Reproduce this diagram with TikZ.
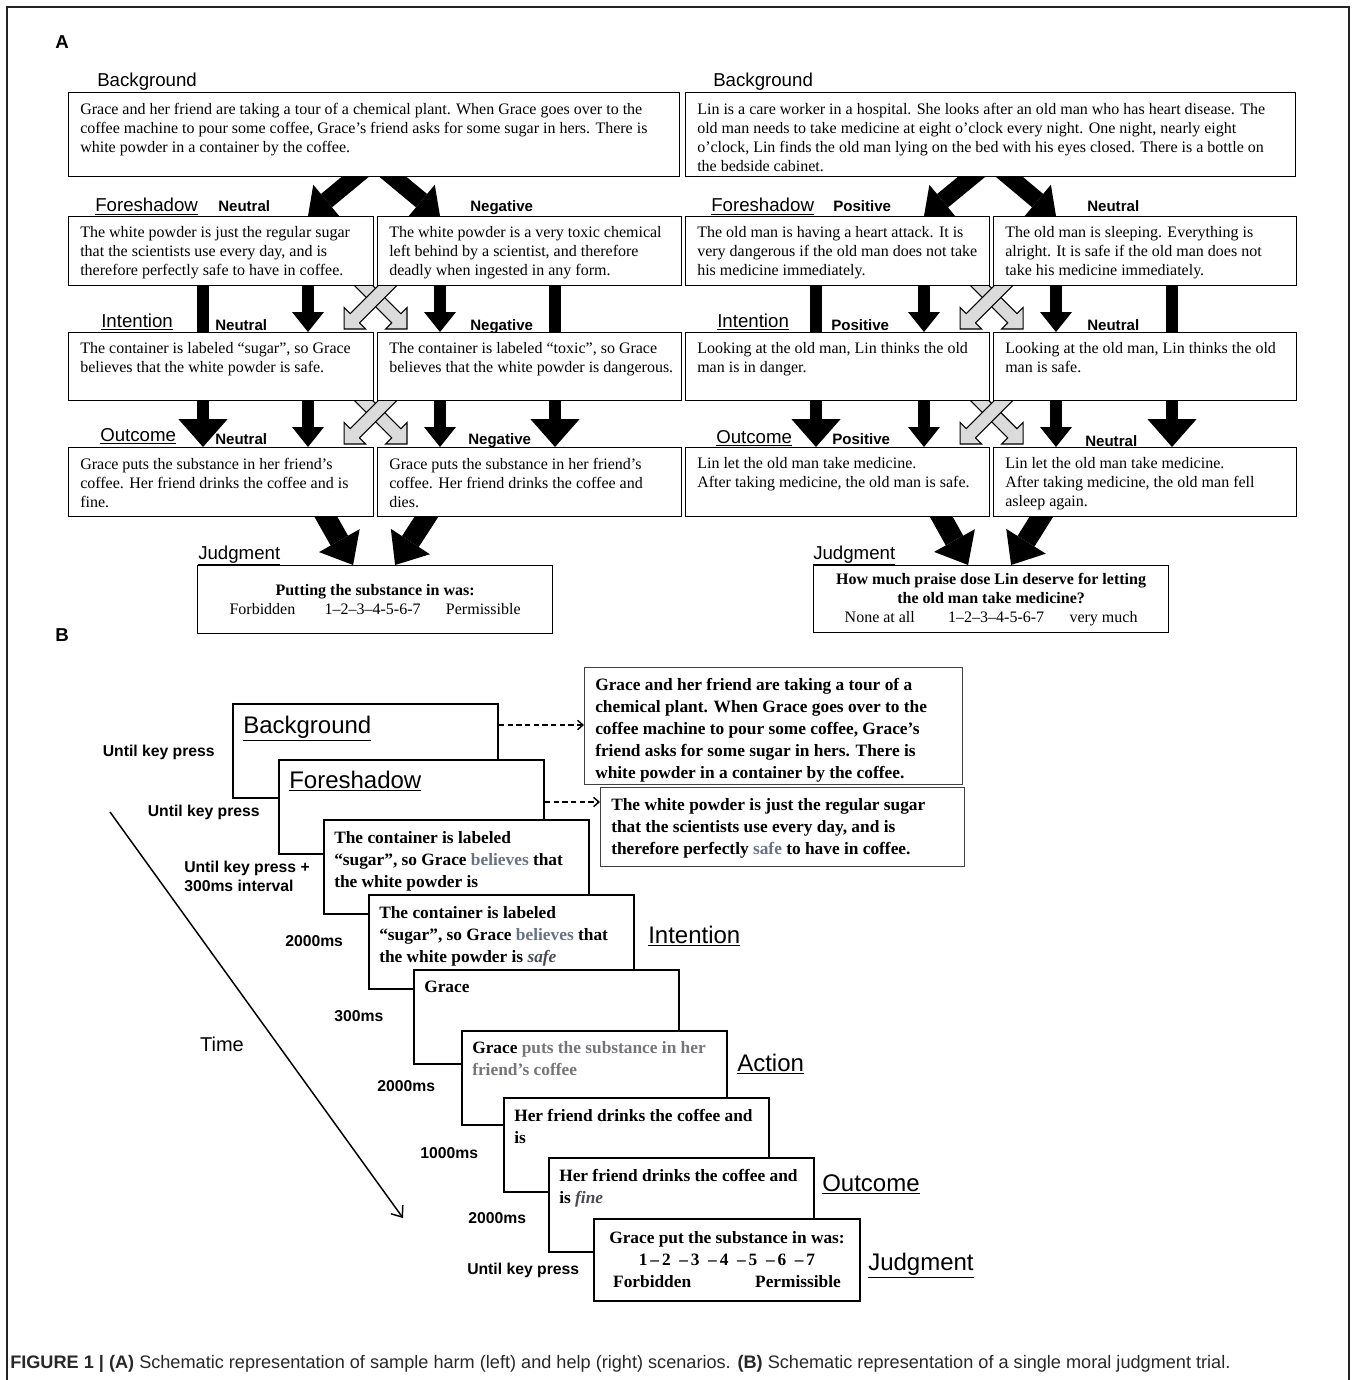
\documentclass[tikz,border=0pt]{standalone}
\usepackage{fontspec}
\setmainfont{Liberation Serif}
\setsansfont{Liberation Sans}
\usetikzlibrary{arrows.meta,shapes.arrows,backgrounds,calc}
\definecolor{cuegray}{RGB}{104,114,132}
\definecolor{actgray}{RGB}{118,118,122}
\definecolor{valgray}{RGB}{72,74,84}
\definecolor{framegray}{RGB}{35,35,35}
\definecolor{capgray}{RGB}{40,40,40}

\begin{document}
\begin{tikzpicture}[
        x=0.75pt, y=-0.75pt, % 1 px = 0.75 pt, y вниз
        sz/.style 2 args={minimum width=#1*0.75pt, minimum height=#2*0.75pt},
        box/.style={draw, fill=white, line width=0.9pt, anchor=north west, inner sep=0pt}, % рамки сценариев
        txt/.style={anchor=north west, align=left, inner sep=0pt, font=\fontsize{12pt}{14.25pt}\selectfont},
        stage/.style={anchor=base west, inner sep=0pt, font=\sffamily\fontsize{14pt}{16pt}\selectfont},
        cond/.style={anchor=base west, inner sep=0pt, font=\sffamily\bfseries\fontsize{11.3pt}{13pt}\selectfont},
        blk/.style={line width=9.5pt, -{Triangle[width=24pt, length=15pt, line width=0pt]}},
        lng/.style={line width=9.5pt, -{Triangle[width=37pt, length=21pt, line width=0pt]}},
        vee/.style={line width=13pt, -{Triangle[width=31pt, length=18pt, line width=0pt]}},
        jdg/.style={line width=15pt, -{Triangle[width=35pt, length=21pt, line width=0pt]}},
        garrow/.style={single arrow, draw, fill=gray!28, line width=0.8pt, inner xsep=0pt, inner ysep=4.5pt,
            minimum height=52pt, minimum width=0pt, single arrow head extend=6.5pt,
            single arrow tip angle=90}, % серые перекрёстные стрелки
        slide/.style={draw, fill=white, line width=1.5pt, anchor=north west, inner sep=0pt, sz={265}{94}},
        stxt/.style={anchor=north west, align=left, inner sep=0pt, font=\bfseries\fontsize{13pt}{16.5pt}\selectfont},
        tbox/.style={draw=black!75, fill=white, line width=0.8pt, anchor=north west, inner sep=0pt},
        dur/.style={inner sep=0pt, font=\sffamily\bfseries\fontsize{11.8pt}{14.25pt}\selectfont},
        phase/.style={anchor=base west, inner sep=0pt, font=\sffamily\fontsize{18pt}{20pt}\selectfont},
        dsh/.style={line width=1.1pt, dash pattern=on 4pt off 2.5pt, -{Straight Barb[length=4pt, width=7pt]}},
    ]
    \useasboundingbox (0,0) rectangle (1356,1380);
    \draw[framegray, line width=1.5pt] (7,1380) -- (7,7) -- (1349,7) -- (1349,1380);

    \node[font=\sffamily\bfseries\fontsize{14pt}{16pt}\selectfont] (lblA) at (62,42) {A};
    \node[font=\sffamily\bfseries\fontsize{14pt}{16pt}\selectfont] (lblB) at (62,635) {B};

    % сценарий вреда (слева)
    \node[box, sz={611}{84}] (bgH) at (68,92) {};
    \node[box, sz={305}{69}] (fsHn) at (68,216) {};
    \node[box, sz={304}{69}] (fsHx) at (377,216) {};
    \node[box, sz={305}{68}] (inHn) at (68,332) {};
    \node[box, sz={304}{68}] (inHx) at (377,332) {};
    \node[box, sz={305}{69}] (ocHn) at (68,447) {};
    \node[box, sz={304}{69}] (ocHx) at (377,447) {};
    \node[box, sz={355}{68}] (jdH) at (197,565) {};

    \node[txt] (bgHt) at ([shift={(12,10.5)}]bgH.north west) {Grace and her friend are taking a tour of a chemical plant. When Grace goes over to the\\ coffee machine to pour some coffee, Grace's friend asks for some sugar in hers. There is\\ white powder in a container by the coffee.};
    \node[txt] (fsHnt) at ([shift={(12,10.5)}]fsHn.north west) {The white powder is just the regular sugar\\ that the scientists use every day, and is\\ therefore perfectly safe to have in coffee.};
    \node[txt] (fsHxt) at ([shift={(12,10.5)}]fsHx.north west) {The white powder is a very toxic chemical\\ left behind by a scientist, and therefore\\ deadly when ingested in any form.};
    \node[txt] (inHnt) at ([shift={(12,10.5)}]inHn.north west) {The container is labeled “sugar”, so Grace\\ believes that the white powder is safe.};
    \node[txt] (inHxt) at ([shift={(12,10.5)}]inHx.north west) {The container is labeled “toxic”, so Grace\\ believes that the white powder is dangerous.};
    \node[txt] (ocHnt) at ([shift={(12,10.5)}]ocHn.north west) {Grace puts the substance in her friend's\\ coffee. Her friend drinks the coffee and is\\ fine.};
    \node[txt] (ocHxt) at ([shift={(12,10.5)}]ocHx.north west) {Grace puts the substance in her friend's\\ coffee. Her friend drinks the coffee and\\ dies.};
    \node[txt, anchor=center, align=center] (jdHt) at (jdH.center) {\textbf{Putting the substance in was:}\\ Forbidden\hspace{22pt}1--2--3--4-5-6-7\hspace{19pt}Permissible};

    \node[stage] (stBgH) at (97,87) {\underline{Background}};
    \node[stage] (stFsH) at (95,212) {\underline{Foreshadow}};
    \node[cond] (cFsHn) at (218,212) {Neutral};
    \node[cond] (cFsHx) at (470,212) {Negative};
    \node[stage] (stInH) at (101,327) {\underline{Intention}};
    \node[cond] (cInHn) at (215,330) {Neutral};
    \node[cond] (cInHx) at (470,330) {Negative};
    \node[stage] (stOcH) at (100,441) {\underline{Outcome}};
    \node[cond] (cOcHn) at (215,444) {Neutral};
    \node[cond] (cOcHx) at (468,444) {Negative};
    \node[stage] (stJdH) at (198,559) {\underline{Judgment}};

    % сценарий помощи (справа)
    \node[box, sz={610}{84}] (bgP) at (685,92) {};
    \node[box, sz={304}{69}] (fsPp) at (685,216) {};
    \node[box, sz={303}{69}] (fsPn) at (993,216) {};
    \node[box, sz={304}{68}] (inPp) at (685,332) {};
    \node[box, sz={303}{68}] (inPn) at (993,332) {};
    \node[box, sz={304}{69}] (ocPp) at (685,447) {};
    \node[box, sz={303}{69}] (ocPn) at (993,447) {};
    \node[box, sz={355}{67}] (jdP) at (813,565) {};

    \node[txt] (bgPt) at ([shift={(12,10.5)}]bgP.north west) {Lin is a care worker in a hospital. She looks after an old man who has heart disease. The\\ old man needs to take medicine at eight o'clock every night. One night, nearly eight\\ o'clock, Lin finds the old man lying on the bed with his eyes closed. There is a bottle on\\ the bedside cabinet.};
    \node[txt] (fsPpt) at ([shift={(12,10.5)}]fsPp.north west) {The old man is having a heart attack. It is\\ very dangerous if the old man does not take\\ his medicine immediately.};
    \node[txt] (fsPnt) at ([shift={(12,10.5)}]fsPn.north west) {The old man is sleeping. Everything is\\ alright. It is safe if the old man does not\\ take his medicine immediately.};
    \node[txt] (inPpt) at ([shift={(12,10.5)}]inPp.north west) {Looking at the old man, Lin thinks the old\\ man is in danger.};
    \node[txt] (inPnt) at ([shift={(12,10.5)}]inPn.north west) {Looking at the old man, Lin thinks the old\\ man is safe.};
    \node[txt] (ocPpt) at ([shift={(12,10.5)}]ocPp.north west) {Lin let the old man take medicine.\\ After taking medicine, the old man is safe.};
    \node[txt] (ocPnt) at ([shift={(12,10.5)}]ocPn.north west) {Lin let the old man take medicine.\\ After taking medicine, the old man fell\\ asleep again.};
    \node[txt, anchor=center, align=center] (jdPt) at (jdP.center) {\textbf{How much praise dose Lin deserve for letting}\\ \textbf{the old man take medicine?}\\ None at all\hspace{25pt}1--2--3--4-5-6-7\hspace{19pt}very much};

    \node[stage] (stBgP) at (713,87) {\underline{Background}};
    \node[stage] (stFsP) at (711,212) {\underline{Foreshadow}};
    \node[cond] (cFsPp) at (833,212) {Positive};
    \node[cond] (cFsPn) at (1087,212) {Neutral};
    \node[stage] (stInP) at (717,327) {\underline{Intention}};
    \node[cond] (cInPp) at (831,330) {Positive};
    \node[cond] (cInPn) at (1087,330) {Neutral};
    \node[stage] (stOcP) at (716,443) {\underline{Outcome}};
    \node[cond] (cOcPp) at (832,444) {Positive};
    \node[cond] (cOcPn) at (1085,446) {Neutral};
    \node[stage] (stJdP) at (813,559) {\underline{Judgment}};

    % колонки стрелок
    \coordinate (cA) at (203,0); \coordinate (cB) at (308,0);
    \coordinate (cC) at (440,0); \coordinate (cD) at (555,0);
    \coordinate (pA) at (816,0); \coordinate (pB) at (924,0);
    \coordinate (pC) at (1056,0); \coordinate (pD) at (1172,0);
    \coordinate (xH1) at ($(fsHn.south east)!.5!(inHx.north west)$);
    \coordinate (xH2) at ($(inHn.south east)!.5!(ocHx.north west)$);
    \coordinate (xP1) at ($(fsPp.south east)!.5!(inPn.north west)$);
    \coordinate (xP2) at ($(inPp.south east)!.5!(ocPn.north west)$);

    \begin{scope}[on background layer]
        \draw[vee] ($(bgH.south)+(0,-16)$) -- (fsHn.north -| cB);
        \draw[vee] ($(bgH.south)+(0,-16)$) -- (fsHx.north -| cC);
        \draw[lng] (fsHn.south -| cA) -- (ocHn.north -| cA);
        \draw[blk] (fsHn.south -| cB) -- (inHn.north -| cB);
        \draw[blk] (fsHx.south -| cC) -- (inHx.north -| cC);
        \draw[lng] (fsHx.south -| cD) -- (ocHx.north -| cD);
        \draw[blk] (inHn.south -| cB) -- (ocHn.north -| cB);
        \draw[blk] (inHx.south -| cC) -- (ocHx.north -| cC);
        \node[garrow, rotate=-45] (gH1a) at ($(xH1)+(4.6,-6.9)$) {};
        \node[garrow, rotate=-135] (gH1b) at ($(xH1)+(-4.6,-6.9)$) {};
        \node[garrow, rotate=-45] (gH2a) at ($(xH2)+(4.6,-6.9)$) {};
        \node[garrow, rotate=-135] (gH2b) at ($(xH2)+(-4.6,-6.9)$) {};
        \draw[jdg] ($(ocHn.south)+(96,-16)$) -- ($(jdH.north)+(-22,0)$);
        \draw[jdg] ($(ocHx.south)+(-93,-16)$) -- ($(jdH.north)+(20,0)$);

        \draw[vee] ($(bgP.south)+(0,-16)$) -- (fsPp.north -| pB);
        \draw[vee] ($(bgP.south)+(0,-16)$) -- (fsPn.north -| pC);
        \draw[lng] (fsPp.south -| pA) -- (ocPp.north -| pA);
        \draw[blk] (fsPp.south -| pB) -- (inPp.north -| pB);
        \draw[blk] (fsPn.south -| pC) -- (inPn.north -| pC);
        \draw[lng] (fsPn.south -| pD) -- (ocPn.north -| pD);
        \draw[blk] (inPp.south -| pB) -- (ocPp.north -| pB);
        \draw[blk] (inPn.south -| pC) -- (ocPn.north -| pC);
        \node[garrow, rotate=-45] (gP1a) at ($(xP1)+(4.6,-6.9)$) {};
        \node[garrow, rotate=-135] (gP1b) at ($(xP1)+(-4.6,-6.9)$) {};
        \node[garrow, rotate=-45] (gP2a) at ($(xP2)+(4.6,-6.9)$) {};
        \node[garrow, rotate=-135] (gP2b) at ($(xP2)+(-4.6,-6.9)$) {};
        \draw[jdg] ($(ocPp.south)+(95,-16)$) -- ($(jdP.north)+(-23,0)$);
        \draw[jdg] ($(ocPn.south)+(-94,-16)$) -- ($(jdP.north)+(20,0)$);
    \end{scope}

    % панель B: последовательность экранов
    \node[tbox, sz={378}{117}] (tBg) at (584,667) {};
    \node[stxt] (tBgt) at ([shift={(11,11)}]tBg.north west) {Grace and her friend are taking a tour of a\\ chemical plant. When Grace goes over to the\\ coffee machine to pour some coffee, Grace's\\ friend asks for some sugar in hers. There is\\ white powder in a container by the coffee.};
    \node[tbox, sz={364}{79}] (tFs) at (600,787) {};
    \node[stxt] (tFst) at ([shift={(11,11)}]tFs.north west) {The white powder is just the regular sugar\\ that the scientists use every day, and is\\ therefore perfectly {\color{cuegray}safe} to have in coffee.};

    \node[slide] (sBg) at (232,703) {};
    \node[phase] (sBgt) at ([shift={(11,30)}]sBg.north west) {\underline{Background}};
    \node[slide] (sFs) at (278,759) {};
    \node[phase] (sFst) at ([shift={(11,29)}]sFs.north west) {\underline{Foreshadow}};
    \node[slide] (sIn1) at (323,819) {};
    \node[stxt] (sIn1t) at ([shift={(11,12)}]sIn1.north west) {The container is labeled\\ “sugar”, so Grace {\color{cuegray}believes} that\\ the white powder is};
    \node[slide] (sIn2) at (368,894) {};
    \node[stxt] (sIn2t) at ([shift={(11,12)}]sIn2.north west) {The container is labeled\\ “sugar”, so Grace {\color{cuegray}believes} that\\ the white powder is {\color{valgray}\itshape safe}};
    \node[slide] (sAc1) at (413,969) {};
    \node[stxt] (sAc1t) at ([shift={(11,12)}]sAc1.north west) {Grace};
    \node[slide] (sAc2) at (461,1030) {};
    \node[stxt] (sAc2t) at ([shift={(11,11)}]sAc2.north west) {Grace {\color{actgray}puts the substance in her}\\ {\color{actgray}friend's coffee}};
    \node[slide] (sOc1) at (503,1097) {};
    \node[stxt] (sOc1t) at ([shift={(11,12)}]sOc1.north west) {Her friend drinks the coffee and\\ is};
    \node[slide] (sOc2) at (548,1157) {};
    \node[stxt] (sOc2t) at ([shift={(11,12)}]sOc2.north west) {Her friend drinks the coffee and\\ is {\color{valgray}\itshape fine}};
    \node[slide, sz={266}{82}] (sJd) at (593,1218) {};
    \node[stxt, anchor=center, align=center] (sJdt) at (sJd.center) {Grace put the substance in was:\\ 1\,--\,2 \ --\,3 \ --\,4 \ --\,5 \ --\,6 \ --\,7\\ Forbidden\hspace{48pt}Permissible};

    \coordinate (dBg) at ($(sBg.north east)+(0,22)$);
    \draw[dsh] (dBg) -- (dBg -| tBg.west);
    \coordinate (dFs) at ($(sFs.north east)+(0,43)$);
    \draw[dsh] (dFs) -- (dFs -| tFs.west);

    \node[dur, anchor=east] (d1) at (215,752) {Until key press};
    \node[dur, anchor=east] (d2) at (260,812) {Until key press};
    \node[dur, anchor=west, align=left] (d3) at (184,876.5) {Until key press +\\300ms interval};
    \node[dur, anchor=west] (d4) at (285,941) {2000ms};
    \node[dur, anchor=west] (d5) at (334,1016) {300ms};
    \node[dur, anchor=west] (d6) at (377,1086) {2000ms};
    \node[dur, anchor=west] (d7) at (420,1153) {1000ms};
    \node[dur, anchor=west] (d8) at (468,1218) {2000ms};
    \node[dur, anchor=west] (d9) at (467,1270) {Until key press};

    \node[phase] (phIn) at (648,943) {\underline{Intention}};
    \node[phase] (phAc) at (737,1071) {\underline{Action}};
    \node[phase] (phOc) at (822,1191) {\underline{Outcome}};
    \node[phase] (phJd) at (868,1270) {\underline{Judgment}};

    \coordinate (tm0) at (110,812);
    \coordinate (tm1) at (403,1218);
    \draw[line width=1.1pt, -{Straight Barb[length=7pt, width=11pt]}] (tm0) -- (tm1);
    \node[font=\sffamily\fontsize{15pt}{17pt}\selectfont] (tmL) at (222,1044) {Time};

    \node[anchor=base west, inner sep=0pt, text=capgray, font=\sffamily\fontsize{13.6pt}{16pt}\selectfont] (cap) at (10,1368) {\textbf{FIGURE 1 | (A)} Schematic representation of sample harm (left) and help (right) scenarios. \textbf{(B)} Schematic representation of a single moral judgment trial.};
\end{tikzpicture}
\end{document}
